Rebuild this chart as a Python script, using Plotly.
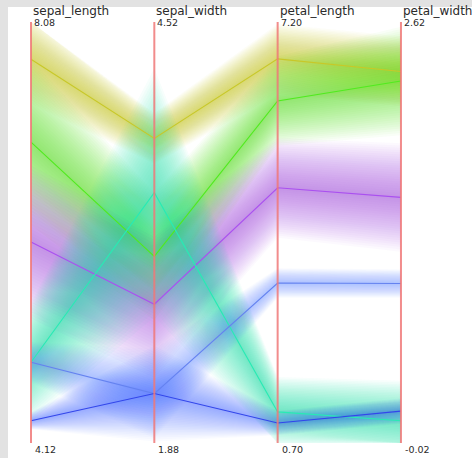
import plotly.graph_objects as go

# ---- data ----
dimensions = ["sepal_length", "sepal_width", "petal_length", "petal_width"]
dim_min = [4.12, 1.88, 0.70, -0.02]
dim_max = [8.08, 4.52, 7.20, 2.62]
min_labels = ["4.12", "1.88", "0.70", "-0.02"]
max_labels = ["8.08", "4.52", "7.20", "2.62"]

cluster_olive = [7.73, 3.79, 6.63, 2.31]
cluster_green = [6.95, 3.05, 5.98, 2.25]
cluster_purple = [6.01, 2.75, 4.64, 1.52]
cluster_teal = [4.88, 3.45, 1.18, 0.12]
cluster_blue_light = [4.88, 2.19, 3.17, 0.98]
cluster_blue_dark = [4.33, 2.19, 1.01, 0.18]

spread_olive = [0.42, 0.16, 0.54, 0.22]
spread_green = [0.78, 0.40, 0.69, 0.34]
spread_purple = [0.72, 0.46, 0.77, 0.34]
spread_teal = [0.56, 0.78, 0.54, 0.25]
spread_blue_light = [0.19, 0.28, 0.23, 0.09]
spread_blue_dark = [0.08, 0.30, 0.19, 0.08]

clusters = [cluster_olive, cluster_green, cluster_purple, cluster_teal,
            cluster_blue_light, cluster_blue_dark]
spreads = [spread_olive, spread_green, spread_purple, spread_teal,
           spread_blue_light, spread_blue_dark]
colors = [(200, 200, 40), (80, 235, 30), (170, 80, 240), (40, 235, 180),
          (100, 130, 240), (50, 70, 235)]
band_alpha = [0.036, 0.034, 0.034, 0.036, 0.026, 0.022]


def norm(v, i):
    return (v - dim_min[i]) / (dim_max[i] - dim_min[i])


def clip(v):
    return max(0.0, min(1.0, v))


fig = go.Figure()
xs = list(range(len(dimensions)))

# fuzzy bands (stacked translucent layers)
N = 24
for vals, sp, col, a in zip(clusters, spreads, colors, band_alpha):
    for k in range(N, 0, -1):
        f = k / N
        up = [clip(norm(vals[i] + sp[i] * f, i)) for i in xs]
        lo = [clip(norm(vals[i] - sp[i] * f, i)) for i in xs]
        fig.add_trace(go.Scatter(
            x=xs + xs[::-1], y=up + lo[::-1], mode="lines", fill="toself",
            line=dict(width=0), fillcolor="rgba(%d,%d,%d,%.3f)" % (col + (a,)),
            hoverinfo="skip", showlegend=False))

# centroid lines
for vals, col in zip(clusters, colors):
    fig.add_trace(go.Scatter(
        x=xs, y=[norm(vals[i], i) for i in xs], mode="lines",
        line=dict(color="rgb(%d,%d,%d)" % col, width=1.1),
        hoverinfo="skip", showlegend=False))

# axes
for i in xs:
    fig.add_trace(go.Scatter(
        x=[i, i], y=[0, 1], mode="lines",
        line=dict(color="rgba(240,120,120,0.85)", width=2),
        hoverinfo="skip", showlegend=False))

font_name = dict(family="DejaVu Sans", size=12, color="#2a2a2a")
font_val = dict(family="DejaVu Sans", size=9.5, color="#2a2a2a")
for i, name in enumerate(dimensions):
    fig.add_annotation(x=i, y=1, xref="x", yref="y", text=name, showarrow=False,
                       xanchor="left", yanchor="middle", xshift=0, yshift=11,
                       font=font_name)
    fig.add_annotation(x=i, y=1, xref="x", yref="y", text=max_labels[i], showarrow=False,
                       xanchor="left", yanchor="middle", xshift=1, yshift=-1,
                       font=font_val)
    fig.add_annotation(x=i, y=0, xref="x", yref="y", text=min_labels[i], showarrow=False,
                       xanchor="left", yanchor="middle", xshift=2, yshift=-6,
                       font=font_val)

fig.update_layout(
    width=472, height=458,
    margin=dict(l=8, r=0, t=7, b=0),
    paper_bgcolor="#e2e2e2",
    plot_bgcolor="white",
    showlegend=False,
    xaxis=dict(range=[-0.1865, 3.576], visible=False, fixedrange=True),
    yaxis=dict(range=[-0.0356, 1.0356], visible=False, fixedrange=True),
)

fig.write_html("out.html")
